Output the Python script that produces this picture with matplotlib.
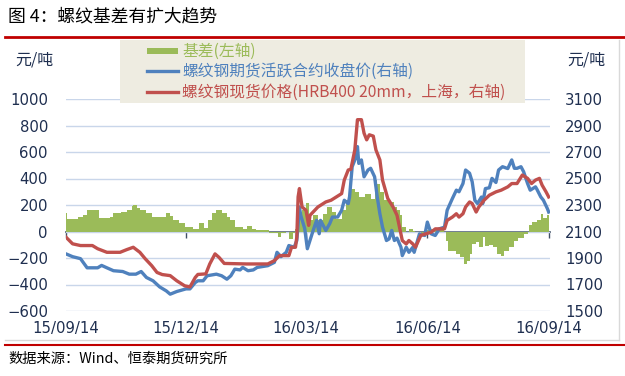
import numpy as np
import pandas as pd
import matplotlib.pyplot as plt
import matplotlib.dates as mdates
from matplotlib.lines import Line2D
from matplotlib.patches import Rectangle

plt.rcParams['font.family'] = ['Noto Sans CJK SC', 'DejaVu Sans']

# 基差(左轴)
basis_dates = ['2015-09-14', '2015-09-15', '2015-09-23', '2015-09-27', '2015-09-30', '2015-10-09',
               '2015-10-17', '2015-10-20', '2015-10-26', '2015-10-30', '2015-11-03', '2015-11-04',
               '2015-11-07', '2015-11-09', '2015-11-14', '2015-11-18', '2015-11-24', '2015-11-29',
               '2015-12-02', '2015-12-04', '2015-12-09', '2015-12-13', '2015-12-19', '2015-12-24',
               '2015-12-28', '2015-12-31', '2016-01-03', '2016-01-06', '2016-01-10', '2016-01-14',
               '2016-01-16', '2016-01-20', '2016-01-26', '2016-01-29', '2016-02-02', '2016-02-05',
               '2016-02-13', '2016-02-15', '2016-02-19', '2016-02-22', '2016-02-24', '2016-02-28',
               '2016-03-01', '2016-03-04', '2016-03-06', '2016-03-08', '2016-03-09', '2016-03-11',
               '2016-03-14', '2016-03-16', '2016-03-19', '2016-03-23', '2016-03-27', '2016-03-30',
               '2016-04-03', '2016-04-06', '2016-04-10', '2016-04-13', '2016-04-16', '2016-04-17',
               '2016-04-20', '2016-04-23', '2016-04-28', '2016-05-02', '2016-05-05', '2016-05-07',
               '2016-05-09', '2016-05-12', '2016-05-16', '2016-05-20', '2016-05-22', '2016-05-24',
               '2016-05-26', '2016-05-29', '2016-05-31', '2016-06-03', '2016-06-05', '2016-06-09',
               '2016-06-13', '2016-06-17', '2016-06-20', '2016-06-25', '2016-06-27', '2016-06-28',
               '2016-06-30', '2016-07-06', '2016-07-09', '2016-07-12', '2016-07-14', '2016-07-16',
               '2016-07-18', '2016-07-21', '2016-07-23', '2016-07-26', '2016-07-28', '2016-07-31',
               '2016-08-03', '2016-08-06', '2016-08-09', '2016-08-11', '2016-08-15', '2016-08-19',
               '2016-08-22', '2016-08-26', '2016-08-29', '2016-08-30', '2016-09-01', '2016-09-05',
               '2016-09-08', '2016-09-10', '2016-09-13', '2016-09-14']
basis = [137, 91, 109, 122, 160, 104,
         110, 137, 150, 163, 190, 200,
         175, 160, 137, 110, 110, 137,
         115, 90, 61, 33, 20, 61,
         30, 84, 137, 160, 137, 109,
         84, 33, 20, 38, 20, 8,
         8, -15, -10, -43, -10, -5,
         -53, -10, 20, 80, 140, 160,
         213, 84, 122, 90, 134, 185,
         150, 96, 160, 236, 250, 324,
         300, 261, 280, 249, 388, 360,
         299, 236, 223, 185, 160, 122,
         33, 0, 20, 5, -5, -15,
         8, 20, 20, 10, -5, -68,
         -144, -170, -195, -245, -220, -170,
         -94, -80, -119, -43, -110, -100,
         -120, -170, -185, -150, -119, -68,
         -50, -18, -5, 46, 71, 84,
         134, 100, 122, 109]

# 螺纹钢期货活跃合约收盘价(右轴)
fut_dates = ['2015-09-14', '2015-09-19', '2015-09-25', '2015-09-30', '2015-10-05', '2015-10-08',
             '2015-10-11', '2015-10-15', '2015-10-20', '2015-10-27', '2015-11-01', '2015-11-06',
             '2015-11-10', '2015-11-14', '2015-11-19', '2015-11-24', '2015-11-29', '2015-12-02',
             '2015-12-07', '2015-12-14', '2015-12-17', '2015-12-21', '2015-12-23', '2015-12-27',
             '2015-12-30', '2016-01-06', '2016-01-10', '2016-01-14', '2016-01-17', '2016-01-20',
             '2016-01-24', '2016-01-26', '2016-01-30', '2016-02-03', '2016-02-06', '2016-02-14',
             '2016-02-19', '2016-02-21', '2016-02-24', '2016-02-28', '2016-03-01', '2016-03-05',
             '2016-03-07', '2016-03-09', '2016-03-10', '2016-03-13', '2016-03-15', '2016-03-19',
             '2016-03-22', '2016-03-24', '2016-03-25', '2016-03-29', '2016-04-01', '2016-04-03',
             '2016-04-07', '2016-04-10', '2016-04-12', '2016-04-15', '2016-04-16', '2016-04-18',
             '2016-04-21', '2016-04-22', '2016-04-23', '2016-04-25', '2016-04-27', '2016-04-30',
             '2016-05-02', '2016-05-05', '2016-05-07', '2016-05-09', '2016-05-11', '2016-05-14',
             '2016-05-16', '2016-05-18', '2016-05-20', '2016-05-22', '2016-05-25', '2016-05-26',
             '2016-05-29', '2016-05-31', '2016-06-03', '2016-06-04', '2016-06-08', '2016-06-12',
             '2016-06-14', '2016-06-17', '2016-06-20', '2016-06-23', '2016-06-27', '2016-06-29',
             '2016-07-03', '2016-07-06', '2016-07-08', '2016-07-11', '2016-07-13', '2016-07-16',
             '2016-07-18', '2016-07-20', '2016-07-22', '2016-07-25', '2016-07-26', '2016-07-28',
             '2016-07-31', '2016-08-02', '2016-08-05', '2016-08-07', '2016-08-10', '2016-08-14',
             '2016-08-17', '2016-08-19', '2016-08-21', '2016-08-24', '2016-08-26', '2016-08-29',
             '2016-08-31', '2016-09-04', '2016-09-05', '2016-09-08', '2016-09-10', '2016-09-13',
             '2016-09-14']
fut_close = [1931, 1910, 1895, 1826, 1826, 1826,
             1844, 1826, 1804, 1798, 1778, 1778,
             1798, 1753, 1728, 1682, 1652, 1627,
             1647, 1667, 1667, 1715, 1728, 1728,
             1766, 1778, 1766, 1740, 1766, 1816,
             1810, 1829, 1804, 1810, 1829, 1842,
             1867, 1943, 1910, 1943, 1994, 1981,
             2032, 2285, 2222, 2123, 1970, 2095,
             2184, 2083, 2184, 2108, 2160, 2209,
             2209, 2260, 2336, 2310, 2361, 2589,
             2665, 2741, 2614, 2640, 2513, 2564,
             2577, 2513, 2361, 2234, 2133, 2032,
             2044, 2108, 2032, 2050, 1981, 1918,
             1981, 1943, 1981, 1943, 2082, 2070,
             2171, 2082, 2070, 2120, 2133, 2260,
             2349, 2412, 2400, 2462, 2564, 2540,
             2475, 2336, 2311, 2360, 2311, 2424,
             2430, 2501, 2470, 2564, 2589, 2575,
             2640, 2577, 2577, 2589, 2551, 2462,
             2412, 2437, 2420, 2361, 2336, 2273,
             2247]

# 螺纹钢现货价格(HRB400 20mm，上海，右轴)
spot_dates = ['2015-09-14', '2015-09-19', '2015-09-25', '2015-10-04', '2015-10-08', '2015-10-15',
              '2015-10-25', '2015-10-30', '2015-11-04', '2015-11-09', '2015-11-13', '2015-11-18',
              '2015-11-22', '2015-11-26', '2015-12-02', '2015-12-07', '2015-12-13', '2015-12-17',
              '2015-12-21', '2015-12-23', '2015-12-29', '2016-01-01', '2016-01-05', '2016-01-08',
              '2016-01-12', '2016-01-29', '2016-02-14', '2016-02-19', '2016-02-23', '2016-03-01',
              '2016-03-03', '2016-03-06', '2016-03-07', '2016-03-08', '2016-03-09', '2016-03-11',
              '2016-03-14', '2016-03-16', '2016-03-17', '2016-03-23', '2016-03-29', '2016-04-02',
              '2016-04-06', '2016-04-10', '2016-04-12', '2016-04-15', '2016-04-17', '2016-04-20',
              '2016-04-22', '2016-04-25', '2016-04-27', '2016-04-29', '2016-05-01', '2016-05-04',
              '2016-05-06', '2016-05-09', '2016-05-11', '2016-05-15', '2016-05-19', '2016-05-22',
              '2016-05-26', '2016-05-29', '2016-05-31', '2016-06-03', '2016-06-05', '2016-06-09',
              '2016-06-13', '2016-06-17', '2016-06-20', '2016-06-27', '2016-06-29', '2016-07-03',
              '2016-07-06', '2016-07-08', '2016-07-11', '2016-07-13', '2016-07-16', '2016-07-18',
              '2016-07-21', '2016-07-23', '2016-07-27', '2016-07-31', '2016-08-05', '2016-08-09',
              '2016-08-14', '2016-08-17', '2016-08-21', '2016-08-25', '2016-08-29', '2016-09-01',
              '2016-09-04', '2016-09-07', '2016-09-09', '2016-09-12', '2016-09-14']
spot_price = [2057, 2007, 1994, 1994, 1970, 1943,
              1943, 1963, 1981, 1943, 1895, 1842,
              1791, 1775, 1767, 1728, 1690, 1682,
              1753, 1776, 1780, 1855, 1931, 1905,
              1859, 1855, 1855, 1880, 1918, 1918,
              1981, 1981, 2057, 2361, 2424, 2285,
              2260, 2146, 2222, 2285, 2323, 2336,
              2361, 2386, 2488, 2564, 2570, 2716,
              2944, 2944, 2842, 2792, 2830, 2820,
              2716, 2640, 2488, 2349, 2285, 2222,
              2032, 2006, 2032, 2006, 1981, 2070,
              2083, 2095, 2120, 2120, 2184, 2209,
              2234, 2209, 2234, 2285, 2323, 2311,
              2247, 2285, 2336, 2374, 2399, 2412,
              2437, 2462, 2462, 2526, 2501, 2462,
              2488, 2501, 2450, 2399, 2361]

tick_dates = ['2015-09-14', '2015-12-14', '2016-03-14', '2016-06-14', '2016-09-14']

green = '#9BBB59'
blue = '#4F81BD'
red = '#C0504D'
navy = '#1F2F50'
dark_red = '#C00000'

fig = plt.figure(figsize=(6.25, 3.76), dpi=100)
ax = fig.add_axes([66 / 625, 1 - 311 / 376, 484 / 625, 212 / 376])
ax2 = ax.twinx()

bd = pd.to_datetime(basis_dates)
ax.fill_between(bd, basis, 0, step='post', color=green, linewidth=0)
ax.set_ylim(-600, 1000)
ax.set_yticks(np.arange(-600, 1001, 200))
ax.set_axisbelow(True)
ax.yaxis.grid(True, color='#C9D6EA', linewidth=1)

ax2.plot(pd.to_datetime(fut_dates), fut_close, color=blue, lw=2.4, solid_joinstyle='round')
ax2.plot(pd.to_datetime(spot_dates), spot_price, color=red, lw=2.4, solid_joinstyle='round')
ax2.set_ylim(1500, 3100)
ax2.set_yticks(np.arange(1500, 3101, 200))

ticks = pd.to_datetime(tick_dates)
ax.set_xlim(ticks[0], ticks[-1] + pd.Timedelta(days=1))
ax.set_xticks(ticks)
ax.xaxis.set_major_formatter(mdates.DateFormatter('%y/%m/%d'))

for a in (ax, ax2):
    for s in a.spines.values():
        s.set_visible(False)

ax.tick_params(axis='x', length=0, pad=7, labelsize=10.7, labelcolor=navy)
ax.tick_params(axis='y', length=0, pad=13, labelsize=10.7, labelcolor=navy)
ax2.tick_params(axis='y', length=0, pad=11, labelsize=10.7, labelcolor=navy)
for lab in ax.get_xticklabels() + ax.get_yticklabels() + ax2.get_yticklabels():
    lab.set_fontfamily('DejaVu Sans')

# zero line with small tick marks
zero = ax.secondary_xaxis(0.375)
zero.set_xticks(ticks)
zero.tick_params(direction='out', length=4, width=1, color='#3F4F66', labelbottom=False, labeltop=False)
for s in zero.spines.values():
    s.set_color('#3F4F66')
    s.set_linewidth(1.2)

# unit labels
fig.text(34 / 625, 1 - 60 / 376, '元/吨', ha='center', va='center', fontsize=11.5, color=navy)
fig.text(586 / 625, 1 - 60 / 376, '元/吨', ha='center', va='center', fontsize=11.5, color=navy)

# legend box
fig.patches.append(Rectangle((120 / 625, 1 - 103 / 376), 405 / 625, 63 / 376,
                             transform=fig.transFigure, facecolor='#EEECE1', edgecolor='none', zorder=3))
fig.patches.append(Rectangle((147 / 625, 1 - 54 / 376), 31 / 625, 6 / 376,
                             transform=fig.transFigure, facecolor=green, edgecolor='none', zorder=4))
fig.lines.append(Line2D([147 / 625, 178 / 625], [1 - 71 / 376] * 2, transform=fig.transFigure,
                        color=blue, lw=2.4, zorder=4))
fig.lines.append(Line2D([147 / 625, 178 / 625], [1 - 92 / 376] * 2, transform=fig.transFigure,
                        color=red, lw=2.4, zorder=4))
fig.text(182 / 625, 1 - 51 / 376, '基差(左轴)', va='center', fontsize=11.3, color=green, zorder=5)
fig.text(182 / 625, 1 - 71 / 376, '螺纹钢期货活跃合约收盘价(右轴)', va='center', fontsize=11.3, color=blue, zorder=5)
fig.text(182 / 625, 1 - 92 / 376, '螺纹钢现货价格(HRB400 20mm，上海，右轴)', va='center', fontsize=11.3,
         color=red, zorder=5)

# title, frame lines and source
fig.text(8 / 625, 1 - 16 / 376, '图 4：螺纹基差有扩大趋势', va='center', fontsize=12.8, color='black')
fig.lines.append(Line2D([5 / 625, 1], [1 - 37 / 376] * 2, transform=fig.transFigure, color=dark_red, lw=2))
fig.lines.append(Line2D([619 / 625] * 2, [1 - 40 / 376, 1 - 340 / 376], transform=fig.transFigure,
                        color='#D9D9D9', lw=1))
fig.lines.append(Line2D([5 / 625, 619 / 625], [1 - 340 / 376] * 2, transform=fig.transFigure,
                        color='#D9D9D9', lw=1))
fig.lines.append(Line2D([5 / 625, 1], [1 - 345 / 376] * 2, transform=fig.transFigure, color=dark_red, lw=1.5))
fig.text(8 / 625, 1 - 359 / 376, '数据来源：Wind、恒泰期货研究所', va='center', fontsize=10.3, color='black')

fig.savefig('out.png', dpi=100)
